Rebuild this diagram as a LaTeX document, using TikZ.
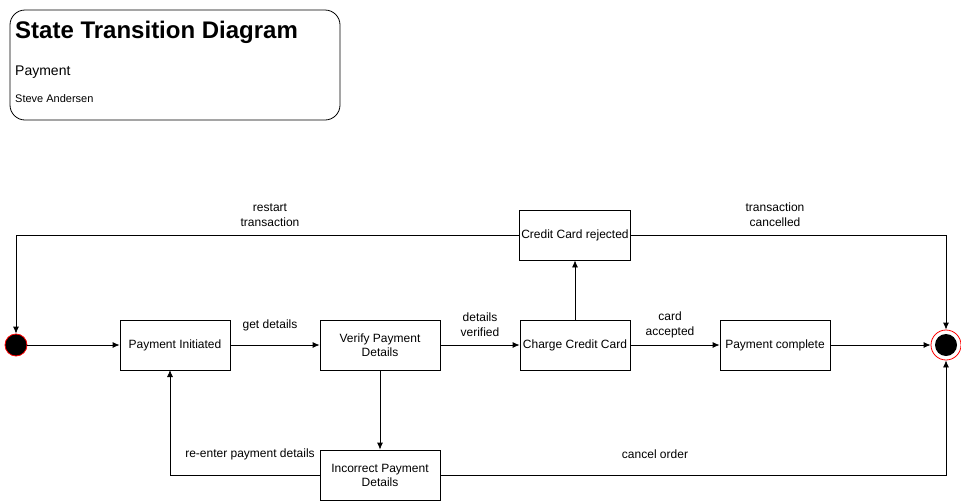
\documentclass[tikz,border=0pt]{standalone}
\usepackage{fontspec}
\setmainfont{Liberation Sans}
\usetikzlibrary{arrows.meta}
\begin{document}
\begin{tikzpicture}[x=1pt,y=-1pt,
  state/.style={draw,line width=0.8pt,minimum width=110pt,minimum height=50pt,inner sep=2pt,align=center,font=\fontsize{12}{14}\selectfont},
  wide/.style={minimum width=120pt},
  flow/.style={draw,line width=0.8pt,-{Latex[length=7pt,width=6pt]}},
  lbl/.style={align=center,font=\fontsize{12}{15}\selectfont},
  head/.style={anchor=base west,inner sep=0pt}]
\useasboundingbox (0,0) rectangle (961,501);
% header card
\draw[line width=0.8pt,rounded corners=15pt] (10,10) rectangle (340,120);
\node[head,font=\bfseries\fontsize{24}{28}\selectfont] (title) at (15,38) {State Transition Diagram};
\node[head,font=\fontsize{14}{16}\selectfont] (sub) at (15,75) {Payment};
\node[head,font=\fontsize{11}{13}\selectfont] (author) at (15,102) {Steve Andersen};
% initial and final states
\node[circle,fill=black,draw=red,line width=0.8pt,minimum size=22pt,inner sep=0pt] (start) at (16,345) {};
\node[circle,draw=red,fill=white,line width=0.8pt,minimum size=30pt,inner sep=0pt] (end) at (946,345) {};
\node[circle,fill=black,minimum size=22pt,inner sep=0pt] (endin) at (946,345) {};
% states
\node[state] (init) at (175,345) {Payment Initiated};
\node[state,wide] (verify) at (380,345) {Verify Payment\\Details};
\node[state] (charge) at (575,345) {Charge Credit Card};
\node[state] (done) at (775,345) {Payment complete};
\node[state] (reject) at (575,235) {Credit Card rejected};
\node[state,wide] (wrong) at (380,475) {Incorrect Payment\\Details};
\coordinate (initin) at (170,370);
% transitions
\draw[flow] (start.east) -- (init.west);
\draw[flow] (init.east) -- (verify.west);
\draw[flow] (verify.east) -- (charge.west);
\draw[flow] (charge.east) -- (done.west);
\draw[flow] (done.east) -- (end.west);
\draw[flow] (charge.north) -- (reject.south);
\draw[flow] (reject.west) -| (start.north);
\draw[flow] (reject.east) -| (end.north);
\draw[flow] (verify.south) -- (wrong.north);
\draw[flow] (wrong.west) -| (initin);
\draw[flow] (wrong.east) -| (end.south);
% labels
\node[lbl] (l1) at (270,325) {get details};
\node[lbl] (l2) at (480,325) {details\\verified};
\node[lbl] (l3) at (670,325) {card\\accepted};
\node[lbl] (l4) at (270,215) {restart\\transaction};
\node[lbl] (l5) at (775,215) {transaction\\cancelled};
\node[lbl] (l6) at (250,454) {re-enter payment details};
\node[lbl] (l7) at (655,454) {cancel order};
\end{tikzpicture}
\end{document}
